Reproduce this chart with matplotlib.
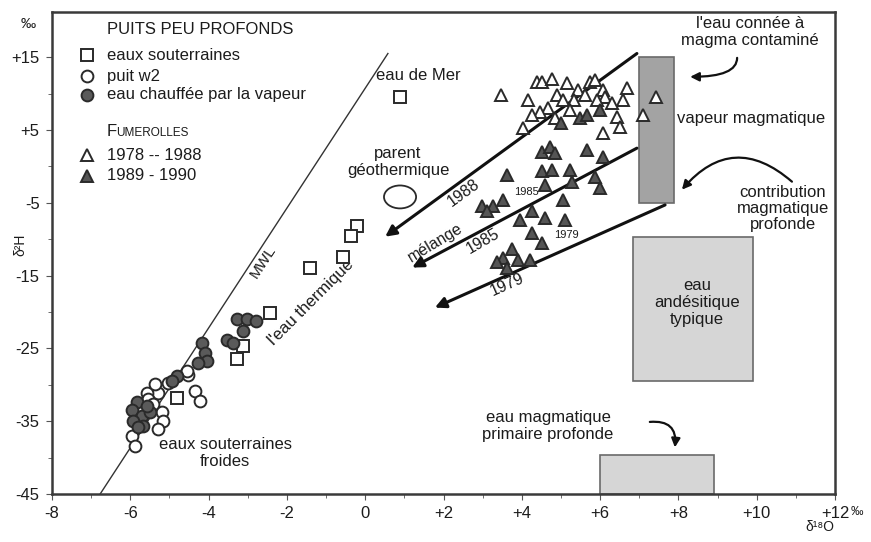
import matplotlib
matplotlib.use('Agg')
import matplotlib.pyplot as plt
from matplotlib.patches import Rectangle, Ellipse
from matplotlib.lines import Line2D

# ---------------- data (delta18O, delta2H in permil) ----------------
sq_x = [-0.22, -0.36, -0.56, -1.41, -2.43, -3.11, -3.28, -4.81]
sq_y = [-8.2, -9.6, -12.4, -13.9, -20.1, -24.7, -26.5, -31.8]
sea_x = [0.89]
sea_y = [9.5]

ocirc_x = [-4.52, -4.56, -4.35, -4.22, -5.28, -5.58, -5.20, -5.16, -5.28,
           -5.96, -5.88, -5.54, -5.37, -5.04, -5.42]
ocirc_y = [-28.6, -28.1, -30.8, -32.2, -31.1, -31.1, -33.8, -35.0, -36.1,
           -37.0, -38.4, -32.0, -29.9, -29.7, -32.7]

fcirc_x = [-3.28, -3.03, -2.79, -3.11, -3.54, -3.38, -4.18, -4.09, -4.05,
           -4.26, -4.81, -4.94, -5.84, -5.96, -5.71, -5.92, -5.67, -5.50,
           -5.58, -5.80]
fcirc_y = [-21.0, -21.0, -21.2, -22.6, -23.8, -24.3, -24.2, -25.6, -26.7,
           -27.0, -28.8, -29.5, -32.4, -33.4, -34.3, -35.0, -35.6, -33.8,
           -32.9, -35.8]

otri_x = [3.47, 4.16, 4.03, 4.39, 4.52, 4.77, 5.15, 4.90, 5.05, 4.67, 4.46,
          5.44, 5.74, 5.87, 6.07, 6.12, 5.92, 6.69, 6.58, 6.43, 6.51, 6.07,
          7.10, 7.43, 5.33, 5.61, 6.30, 4.26, 4.85, 5.23]
otri_y = [9.8, 9.1, 5.3, 11.6, 11.6, 12.0, 11.4, 9.8, 9.1, 8.0, 7.5,
          10.5, 11.6, 11.8, 10.5, 9.5, 9.1, 10.8, 9.1, 6.8, 5.4, 4.6,
          7.1, 9.5, 9.1, 9.8, 8.7, 7.1, 6.6, 7.7]

ftri_x = [4.51, 4.72, 4.85, 5.66, 6.08, 3.61, 4.51, 4.76, 5.23, 4.59, 5.87,
          6.00, 5.06, 5.27, 3.53, 2.98, 3.27, 3.11, 4.25, 3.95, 4.59, 5.10,
          4.25, 4.51, 3.74, 3.53, 3.91, 4.21, 3.61, 3.37, 5.01, 5.49, 5.66,
          6.00]
ftri_y = [2.0, 2.7, 1.8, 2.3, 1.3, -1.2, -0.7, -0.5, -0.5, -2.5, -1.4,
          -3.0, -4.6, -2.1, -4.6, -5.5, -5.5, -6.2, -6.2, -7.3, -7.1, -7.3,
          -9.2, -10.5, -11.4, -12.6, -12.8, -12.8, -14.0, -13.1, 5.9, 6.6,
          7.1, 7.7]

mwl_x = [-6.77, 0.58]
mwl_y = [-45.0, 15.5]

# mixing arrows: (start x, start y, end x, end y)
arrows = [(6.94, 15.5, 0.51, -9.66),
          (6.94, 2.5, 1.20, -13.9),
          (7.66, -5.3, 1.78, -19.4)]

# boxes: (x0, x1, y0, y1)
box_vapeur = (7.0, 7.9, -5.0, 15.0)
box_andes = (6.83, 9.91, -29.5, -9.7)
box_prim = (6.0, 8.9, -45.0, -39.7)

xticks = [-8, -6, -4, -2, 0, 2, 4, 6, 8, 10, 12]
xticklabels = ['-8', '-6', '-4', '-2', '0', '+2', '+4', '+6', '+8', '+10', '+12']
yticks = [15, 5, -5, -15, -25, -35, -45]
yticklabels = ['+15', '+5', '-5', '-15', '-25', '-35', '-45']

# ---------------- figure ----------------
plt.rcParams['font.family'] = ['Liberation Sans', 'DejaVu Sans']
W, H = 871, 542
fig = plt.figure(figsize=(W / 100, H / 100), dpi=100)
ax = fig.add_axes([52 / W, 1 - 494 / H, 783 / W, 482 / H])
ax.set_xlim(-8, 12)
ax.set_ylim(-45, 21.2)

TXT = '#1c1c1c'
EDGE = '#2a2a2a'
FS = 12

def P(px, py):
    return (px / W, 1 - py / H)

for s in ax.spines.values():
    s.set_color('#3a3a3a')
    s.set_linewidth(1.8)

ax.set_xticks(xticks)
ax.set_xticklabels(xticklabels)
ax.set_xticks(range(-7, 12, 2), minor=True)
ax.set_yticks(yticks)
ax.set_yticklabels(yticklabels)
ax.set_yticks([10, 0, -10, -20, -30, -40], minor=True)
ax.tick_params(which='both', direction='out', colors='#555555', labelcolor=TXT,
               labelsize=FS)
ax.tick_params(which='major', length=4, pad=5)
ax.tick_params(which='minor', length=3)

# boxes
for (x0, x1, y0, y1), fc in [(box_vapeur, '#a3a3a3'), (box_andes, '#d6d6d6'),
                             (box_prim, '#d6d6d6')]:
    ax.add_patch(Rectangle((x0, y0), x1 - x0, y1 - y0, facecolor=fc,
                           edgecolor='#6a6a6a', lw=1.2, zorder=1))

# MWL
ax.plot(mwl_x, mwl_y, color='#333333', lw=1.0, zorder=2)

# ellipse parent geothermique
ax.add_patch(Ellipse((0.89, -4.2), 0.82, 3.15, facecolor='none',
                     edgecolor=EDGE, lw=1.3, zorder=3))

# mixing arrows
for x0, y0, x1, y1 in arrows:
    ax.annotate('', xy=(x1, y1), xytext=(x0, y0),
                arrowprops=dict(arrowstyle='-|>', lw=2.2, color='#111111',
                                mutation_scale=16, shrinkA=0, shrinkB=0),
                zorder=4)

mk = dict(linestyle='none', markeredgecolor=EDGE, markeredgewidth=1.4, zorder=5)
ax.plot(sq_x, sq_y, marker='s', ms=8.5, markerfacecolor='white', **mk)
ax.plot(sea_x, sea_y, marker='s', ms=8.5, markerfacecolor='white', **mk)
ax.plot(ocirc_x, ocirc_y, marker='o', ms=8.5, markerfacecolor='white', **mk)
ax.plot(fcirc_x, fcirc_y, marker='o', ms=8.5, markerfacecolor='#5a5a5a', **mk)
ax.plot(otri_x, otri_y, marker='^', ms=9, markerfacecolor='white', **mk)
ax.plot(ftri_x, ftri_y, marker='^', ms=9, markerfacecolor='#555555', **mk)

# ---------------- annotations ----------------
ax.text(1.35, 12.5, 'eau de Mer', fontsize=FS, color=TXT, ha='center', va='center')
ax.text(0.84, 0.6, 'parent\ngéothermique', fontsize=FS, color=TXT, ha='center',
        va='center', linespacing=1.15)
ax.text(-2.61, -13.1, 'MWL', fontsize=11, color=TXT, ha='center', va='center',
        rotation=57)
ax.text(-1.38, -18.7, "l'eau thermique", fontsize=FS, color=TXT, ha='center',
        va='center', rotation=45)
ax.text(-3.58, -39.4, 'eaux souterraines\nfroides', fontsize=FS, color=TXT,
        ha='center', va='center', linespacing=1.15)
ax.text(2.50, -3.6, '1988', fontsize=11.5, color=TXT, ha='center', va='center',
        rotation=36)
ax.text(1.78, -10.5, 'mélange', fontsize=11.5, color=TXT, ha='center',
        va='center', rotation=31)
ax.text(3.0, -10.3, '1985', fontsize=11.5, color=TXT, ha='center', va='center',
        rotation=30)
ax.text(3.62, -16.2, '1979', fontsize=11.5, color=TXT, ha='center', va='center',
        rotation=24)
ax.text(4.13, -3.5, '1985', fontsize=8, color=TXT, ha='center', va='center')
ax.text(5.15, -9.4, '1979', fontsize=8, color=TXT, ha='center', va='center')
ax.text(9.83, 18.4, "l'eau connée à\nmagma contaminé", fontsize=FS, color=TXT,
        ha='center', va='center', linespacing=1.15)
ax.text(7.96, 6.6, 'vapeur magmatique', fontsize=FS, color=TXT, ha='left',
        va='center')
ax.text(10.67, -5.8, 'contribution\nmagmatique\nprofonde', fontsize=FS,
        color=TXT, ha='center', va='center', linespacing=1.1)
ax.text(8.47, -18.7, 'eau\nandésitique\ntypique', fontsize=FS, color=TXT,
        ha='center', va='center', linespacing=1.15)
ax.text(4.67, -35.7, 'eau magmatique\nprimaire profonde', fontsize=FS,
        color=TXT, ha='center', va='center', linespacing=1.15)

cur = dict(arrowstyle='-|>', lw=1.6, color='#111111', mutation_scale=13,
           shrinkA=0, shrinkB=0)
ax.annotate('', xy=(8.30, 12.3), xytext=(9.50, 14.9),
            arrowprops=dict(connectionstyle='angle3,angleA=-90,angleB=0', **cur))
ax.annotate('', xy=(8.09, -3.2), xytext=(10.90, -2.1),
            arrowprops=dict(connectionstyle='arc3,rad=0.5', **cur))
ax.annotate('', xy=(7.91, -38.6), xytext=(7.27, -35.1),
            arrowprops=dict(connectionstyle='arc3,rad=-0.6', **cur))

# ---------------- axis labels ----------------
fig.text(*P(28, 24), '‰', fontsize=11, color=TXT, ha='center', va='center')
fig.text(*P(20, 245), 'δ²H', fontsize=10, color=TXT, ha='center', va='center',
         rotation=90)
fig.text(*P(851, 512), '‰', fontsize=9, color=TXT, ha='left', va='center')
fig.text(*P(820, 527), 'δ¹⁸O', fontsize=10, color=TXT, ha='center', va='center')

# ---------------- legend ----------------
fig.text(*P(107, 30), 'PUITS PEU PROFONDS', fontsize=FS, color=TXT, ha='left',
         va='center')
leg = [(55, 's', 'white', 'eaux souterraines'),
       (76, 'o', 'white', 'puit w2'),
       (95, 'o', '#5a5a5a', 'eau chauffée par la vapeur'),
       (155, '^', 'white', '1978 -- 1988'),
       (176, '^', '#555555', '1989 - 1990')]
for py, m, fc, lab in leg:
    fig.add_artist(Line2D([87 / W], [1 - py / H], marker=m, ms=8.5,
                          markerfacecolor=fc, markeredgecolor=EDGE,
                          markeredgewidth=1.4, linestyle='none',
                          transform=fig.transFigure))
    fig.text(*P(107, py), lab, fontsize=FS, color=TXT, ha='left', va='center')
fig.text(*P(107, 136), 'F', fontsize=FS, color=TXT, ha='left', va='baseline')
fig.text(*P(116.5, 136), 'UMEROLLES', fontsize=8.5, color=TXT, ha='left',
         va='baseline')

fig.savefig('out.png', dpi=100)
